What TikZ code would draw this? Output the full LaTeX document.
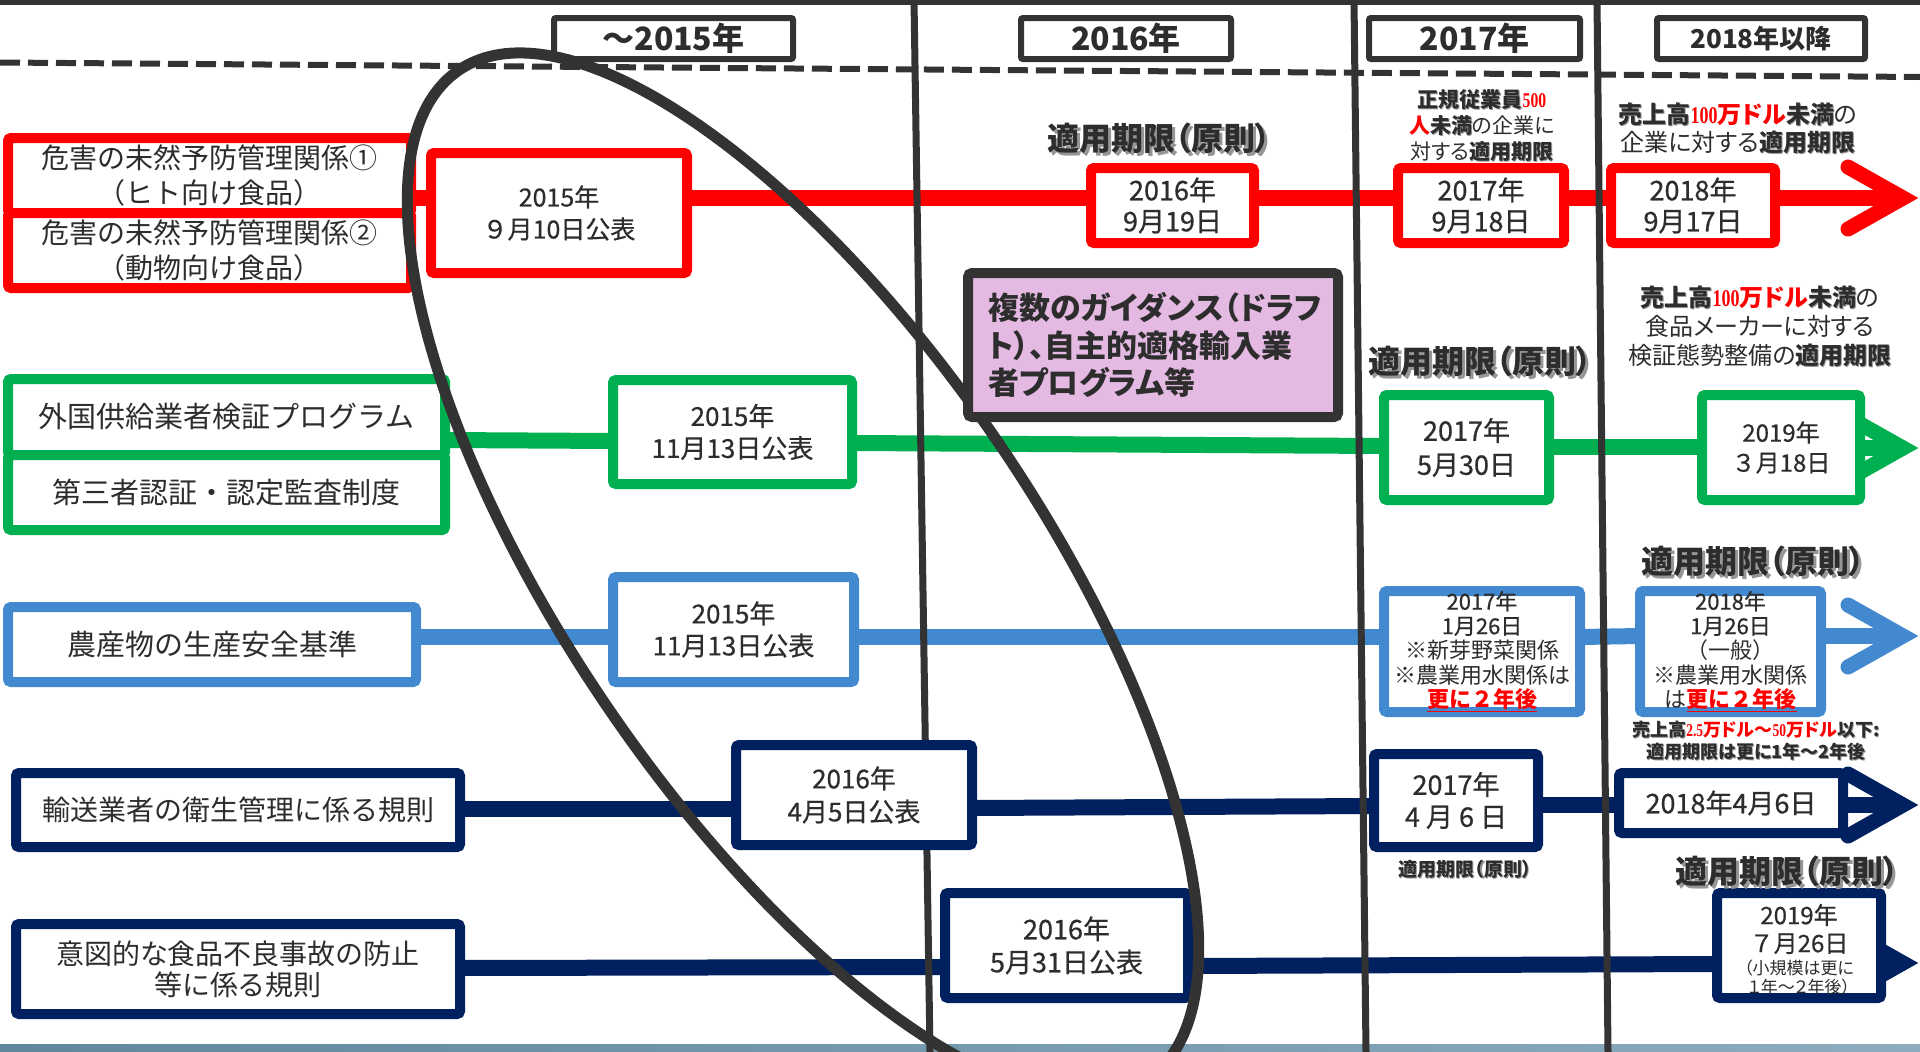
\documentclass[tikz,border=0pt]{standalone}
\usepackage{fontspec}
\setmainfont{Noto Sans CJK JP}
\newfontfamily\cjkp[RawFeature=+palt]{Noto Sans CJK JP}
\newfontfamily\medf[FakeBold=0.6]{Noto Sans CJK JP}
\newfontfamily\numserif[FakeStretch=0.75]{Liberation Serif}
\usetikzlibrary{calc}
\definecolor{dg}{RGB}{51,51,51}
\definecolor{txt}{RGB}{45,45,45}
\definecolor{fred}{RGB}{255,0,0}
\definecolor{fgreen}{RGB}{0,176,80}
\definecolor{fblue}{RGB}{66,137,208}
\definecolor{fnavy}{RGB}{0,32,96}
\definecolor{fpurple}{RGB}{228,186,226}
\definecolor{shd}{RGB}{150,150,150}
\definecolor{bandL}{RGB}{95,135,158}
\definecolor{bandR}{RGB}{140,172,190}
\newcommand{\fsz}[2]{\fontsize{#1}{#2}\selectfont}
\newcommand{\shtx}[2][2]{\leavevmode\rlap{\kern#1pt\raisebox{-#1pt}{\textcolor{shd}{#2}}}#2}
\newcommand{\bsh}[1]{\shtx[1.2]{\textbf{#1}}}
\newcommand{\rnum}[1]{{\numserif\bfseries\textcolor{fred}{#1}}}
\newcommand{\rbf}[1]{{\bfseries\textcolor{fred}{#1}}}
\newcommand{\bigrule}{\shtx[3]{\textbf{適用期限（原則）}}}
\newcommand{\chev}[2]{\draw[chevron,#1] ([shift={(-55,-31)}]#2) -- (#2) -- ([shift={(-55,31)}]#2);}
\pgfdeclarelayer{back}
\pgfdeclarelayer{lines}
\pgfdeclarelayer{vl}
\pgfdeclarelayer{ell}
\pgfdeclarelayer{top}
\pgfsetlayers{back,lines,vl,main,ell,top}
\tikzset{
  box/.style={draw, fill=white, line width=10, rounded corners=3, inner sep=0, outer sep=0, align=center, text=txt},
  hdr/.style={draw=dg, fill=white, line width=6, rounded corners=2, inner sep=0, outer sep=0, text=txt, font=\bfseries\fsz{32}{36}},
  conn/.style={line width=16},
  chevron/.style={line width=15, line cap=round, line join=miter},
  vline/.style={draw=dg, line width=7},
  lbl/.style={inner sep=0, outer sep=0, align=center, text=txt},
  bigrule/.style={lbl, font=\cjkp\fsz{32}{36}},
}
\begin{document}
\begin{tikzpicture}[x=1pt,y=-1pt]
\useasboundingbox (0,0) rectangle (1920,1052);

% ---------- headers ----------
\node[hdr, minimum width=239, minimum height=41] (H1) at (673.5,38.5) {～2015年};
\node[hdr, minimum width=210, minimum height=41] (H2) at (1126,38.5) {2016年};
\node[hdr, minimum width=211, minimum height=41] (H3) at (1474.5,38.5) {2017年};
\node[hdr, minimum width=208, minimum height=41, font=\bfseries\fsz{26}{30}] (H4) at (1761,38.5) {2018年以降};

% ---------- row 1 (red) ----------
\node[box, draw=fred, minimum width=403, minimum height=75, font=\fsz{28}{35}] (R0a) at (209.5,175.5) {危害の未然予防管理関係①\\（ヒト向け食品）};
\node[box, draw=fred, minimum width=403, minimum height=75, font=\fsz{28}{35}] (R0b) at (209.5,250.5) {危害の未然予防管理関係②\\（動物向け食品）};
\node[box, draw=fred, minimum width=256, minimum height=120, font=\medf\fsz{25}{32}] (R1) at (559,213) {2015年\\９月10日公表};
\node[box, draw=fred, minimum width=163, minimum height=75, font=\medf\fsz{27}{31}] (R2) at (1172.5,205.5) {2016年\\9月19日};
\node[box, draw=fred, minimum width=166, minimum height=75, font=\medf\fsz{27}{31}] (R3) at (1481,205.5) {2017年\\9月18日};
\node[box, draw=fred, minimum width=164, minimum height=75, font=\medf\fsz{27}{31}] (R4) at (1693,205.5) {2018年\\9月17日};
\node[bigrule] (T1) at (1159,140) {\bigrule};
\node[lbl, font=\cjkp\fsz{21}{26}] (T2) at (1482,126) {\bsh{正規従業員}\rnum{500}\\\rbf{人}\bsh{未満}の企業に\\対する\bsh{適用期限}};
\node[lbl, font=\cjkp\fsz{24}{28}] (T3) at (1738,129) {\bsh{売上高}\rnum{100}\rbf{万ドル}\bsh{未満}の\\企業に対する\bsh{適用期限}};

% ---------- row 2 (green) ----------
\node[box, draw=fgreen, minimum width=437, minimum height=76, font=\fsz{29}{35}] (G0a) at (226.5,417) {外国供給業者検証プログラム};
\node[box, draw=fgreen, minimum width=437, minimum height=75, font=\fsz{29}{35}] (G0b) at (226.5,492.5) {第三者認証・認定監査制度};
\node[box, draw=fgreen, minimum width=239, minimum height=104, font=\medf\fsz{26}{32}] (G1) at (732.5,432) {2015年\\11月13日公表};
\node[box, draw=fgreen, minimum width=165, minimum height=105, font=\medf\fsz{27}{34}] (G2) at (1466.5,447.5) {2017年\\5月30日};
\node[box, draw=fgreen, minimum width=158, minimum height=105, font=\medf\fsz{24}{30}] (G3) at (1781,447.5) {2019年\\３月18日};
\node[bigrule] (T4) at (1480,363) {\bigrule};
\node[lbl, font=\cjkp\fsz{24}{29}] (T5) at (1760,327) {\bsh{売上高}\rnum{100}\rbf{万ドル}\bsh{未満}の\\食品メーカーに対する\\検証態勢整備の\bsh{適用期限}};

% ---------- row 3 (blue) ----------
\node[box, draw=fblue, minimum width=408, minimum height=75, font=\fsz{29}{35}] (B0) at (212,644.5) {農産物の生産安全基準};
\node[box, draw=fblue, minimum width=241, minimum height=105, font=\medf\fsz{26}{32}] (B1) at (733.5,629.5) {2015年\\11月13日公表};
\node[box, draw=fblue, minimum width=196, minimum height=121, font=\fsz{22}{24.5}] (B2) at (1482,651.5) {{\medf 2017年}\\{\medf 1月26日}\\※新芽野菜関係\\※農業用水関係は\\\rbf{\underline{更に２年後}}};
\node[box, draw=fblue, minimum width=181, minimum height=121, font=\fsz{22}{24.5}] (B3) at (1730.5,651.5) {{\medf 2018年}\\{\medf 1月26日}\\（一般）\\※農業用水関係\\は\rbf{\underline{更に２年後}}};
\node[bigrule] (T6) at (1753,563) {\bigrule};
\node[lbl, font=\cjkp\fsz{18}{22}] (T7) at (1756,741) {\bsh{売上高}\rnum{2.5}\rbf{万ドル～}\rnum{50}\rbf{万ドル}\bsh{以下:}\\\bsh{適用期限は更に1年～2年後}};

% ---------- row 4 (navy) ----------
\node[box, draw=fnavy, minimum width=444, minimum height=74, font=\fsz{28}{35}] (N0) at (238,810) {輸送業者の衛生管理に係る規則};
\node[box, draw=fnavy, minimum width=236, minimum height=100, font=\medf\fsz{26}{33}] (N1) at (854,795) {2016年\\4月5日公表};
\node[box, draw=fnavy, minimum width=164, minimum height=93, font=\medf\fsz{27}{32}] (N2) at (1456,800.5) {2017年\\4 月 6 日};
\node[box, draw=fnavy, minimum width=224, minimum height=60, font=\medf\fsz{27}{32}] (N3) at (1731,803) {2018年4月6日};
\node[lbl, font=\cjkp\fsz{19}{22}] (T8) at (1465,870) {\bsh{適用期限（原則）}};

% ---------- row 5 (navy) ----------
\node[box, draw=fnavy, minimum width=444, minimum height=90, font=\fsz{28}{31}] (M0) at (238,969) {意図的な食品不良事故の防止\\等に係る規則};
\node[box, draw=fnavy, minimum width=243, minimum height=105, font=\medf\fsz{27}{33}] (M1) at (1066.5,945.5) {2016年\\5月31日公表};
\node[box, draw=fnavy, minimum width=164, minimum height=105] (M2) at (1799,945.5) {};
\node[lbl, font=\medf\fsz{24}{28}] (M2a) at (1799,929) {2019年\\７月26日};
\node[lbl, font=\cjkp\fsz{17}{19}] (M2b) at (1799,977.5) {（小規模は更に\\１年～２年後）};
\node[bigrule] (T9) at (1787,873) {\bigrule};

% ---------- purple note (on top) ----------
\begin{pgfonlayer}{top}
\node[draw=dg, fill=fpurple, line width=10, rounded corners=4, inner sep=0, outer sep=0, minimum width=370, minimum height=144, text width=330, align=left, text=txt, font=\cjkp\bfseries\fsz{31}{37.5}] (P) at (1153,345) {複数のガイダンス（ドラフ\\ト）、自主的適格輸入業\\者プログラム等};
\end{pgfonlayer}

% ---------- background ----------
\begin{pgfonlayer}{back}
\fill[white] (0,0) rectangle (1920,1052);
\fill[dg] (0,0) rectangle (1920,5);
\draw[dg, line width=6, dash pattern=on 20 off 8] (0,62.5) -- (1920,77);
\shade[left color=bandL, right color=bandR] (0,1044) rectangle (1920,1052);
\end{pgfonlayer}

% ---------- connectors ----------
\coordinate (rT) at (1903,198);
\coordinate (gT) at (1903,448);
\coordinate (bT) at (1903,636);
\coordinate (nT) at (1903,805);
\coordinate (mT) at (1903,963);
\begin{pgfonlayer}{lines}
\draw[conn, fred] (R0a.east |- 0,198) -- (R1.west |- 0,198);
\draw[conn, fred] (R1.east |- 0,198) -- (R2.west |- 0,198);
\draw[conn, fred] (R2.east |- 0,198) -- (R3.west |- 0,198);
\draw[conn, fred] (R3.east |- 0,198) -- (R4.west |- 0,198);
\draw[conn, fred] (R4.east |- 0,198) -- (rT);
\chev{fred}{rT}
\draw[conn, fgreen] (G0a.east |- 0,440) -- (G1.west |- 0,441);
\draw[conn, fgreen] (G1.east |- 0,443) -- (G2.west |- 0,446);
\draw[conn, fgreen] (G2.east |- 0,447) -- (G3.west |- 0,447);
\draw[conn, fgreen] (G3.east |- 0,448) -- (gT);
\chev{fgreen}{gT}
\draw[conn, fblue] (B0.east |- 0,637) -- (B1.west |- 0,637);
\draw[conn, fblue] (B1.east |- 0,637) -- (B2.west |- 0,637);
\draw[conn, fblue] (B2.east |- 0,637) -- (B3.west |- 0,636);
\draw[conn, fblue] (B3.east |- 0,636) -- (bT);
\chev{fblue}{bT}
\draw[conn, fnavy] (N0.east |- 0,809) -- (N1.west |- 0,809);
\draw[conn, fnavy] (N1.east |- 0,808) -- (N2.west |- 0,806);
\draw[conn, fnavy] (N2.east |- 0,805) -- (N3.west |- 0,805);
\draw[conn, fnavy] (N3.east |- 0,805) -- (nT);
\chev{fnavy}{nT}
\draw[conn, fnavy] (M0.east |- 0,968) -- (M1.west |- 0,967);
\draw[conn, fnavy] (M1.east |- 0,966) -- (M2.west |- 0,964);
\draw[conn, fnavy] (M2.east |- 0,963) -- (mT);
\chev{fnavy}{mT}
\end{pgfonlayer}

% ---------- year separators ----------
\begin{pgfonlayer}{vl}
\draw[vline] (914,0) -- (930,1052);
\draw[vline] (1354,0) -- (1366,1052);
\draw[vline] (1597,0) -- (1608,1052);
\end{pgfonlayer}

% ---------- ellipse ----------
\begin{pgfonlayer}{ell}
\draw[dg, line width=11, rotate around={-55.7:(803,575)}] (803,575) ellipse [x radius=611pt, y radius=236pt];
\end{pgfonlayer}
\end{tikzpicture}
\end{document}
